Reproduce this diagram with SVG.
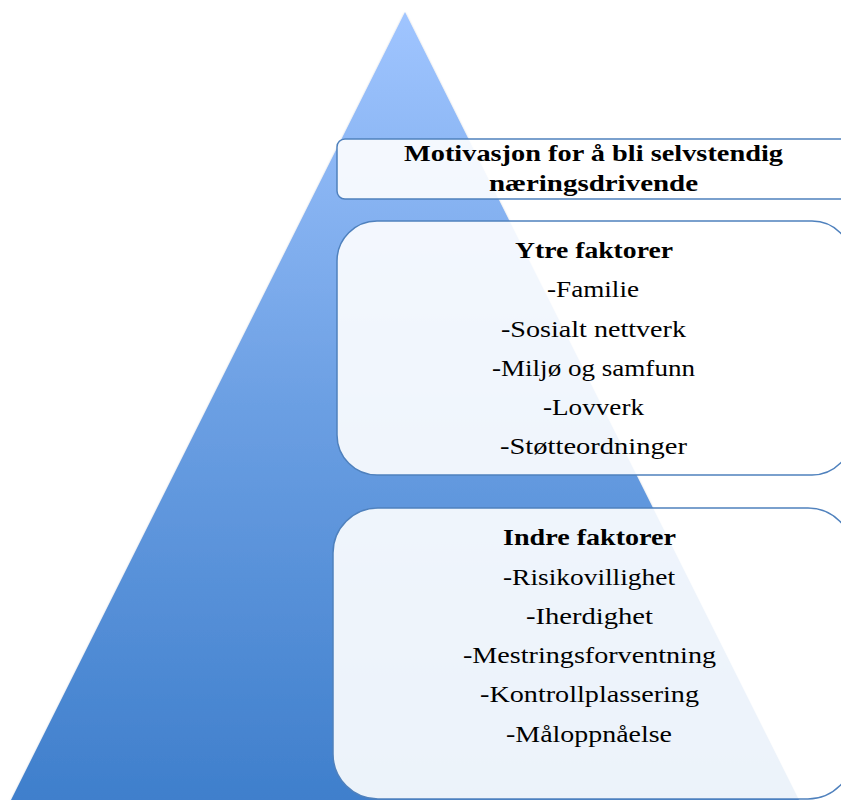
<svg xmlns="http://www.w3.org/2000/svg" width="841" height="800" viewBox="0 0 841 800">
<defs>
<linearGradient id="tri" x1="0" y1="12" x2="0" y2="800" gradientUnits="userSpaceOnUse">
<stop offset="0" stop-color="#a0c5ff"/>
<stop offset="0.5" stop-color="#6b9fe3"/>
<stop offset="1" stop-color="#3f7fcc"/>
</linearGradient>
<filter id="sh" x="-5%" y="-5%" width="110%" height="110%">
<feDropShadow dx="0" dy="1" stdDeviation="1" flood-color="#000" flood-opacity="0.25"/>
</filter>
</defs>
<style>
.box{fill:#ffffff;fill-opacity:0.9;stroke:#4f81bd;stroke-width:1.5}
text{font-family:"Liberation Serif","DejaVu Serif",serif;fill:#000;text-anchor:middle}
.h{font-weight:bold;font-size:24px}
.i{font-size:24px}
</style>
<rect width="841" height="800" fill="#ffffff"/>
<g id="pyramid">
<polygon points="405,12 11,800 799,800" fill="url(#tri)" filter="url(#sh)"/>
</g>
<g id="connectors"/>
<g id="title">
<rect class="box" x="337" y="139" width="520" height="60" rx="8"/>
<text class="h" x="593.5" y="161" textLength="379" lengthAdjust="spacingAndGlyphs">Motivasjon for å bli selvstendig</text>
<text class="h" x="593.5" y="191" textLength="209" lengthAdjust="spacingAndGlyphs">næringsdrivende</text>
</g>
<g id="ytre">
<rect class="box" x="337" y="221" width="515" height="254" rx="40"/>
<text class="h" x="594" y="258" textLength="158" lengthAdjust="spacingAndGlyphs">Ytre faktorer</text>
<text class="i" x="593" y="297" textLength="92" lengthAdjust="spacingAndGlyphs">-Familie</text>
<text class="i" x="593.5" y="337" textLength="185" lengthAdjust="spacingAndGlyphs">-Sosialt nettverk</text>
<text class="i" x="593.5" y="376" textLength="203" lengthAdjust="spacingAndGlyphs">-Miljø og samfunn</text>
<text class="i" x="593.5" y="415" textLength="101" lengthAdjust="spacingAndGlyphs">-Lovverk</text>
<text class="i" x="593.5" y="454" textLength="187" lengthAdjust="spacingAndGlyphs">-Støtteordninger</text>
</g>
<g id="indre">
<rect class="box" x="333" y="508" width="520" height="291" rx="45"/>
<text class="h" x="589.5" y="545" textLength="173" lengthAdjust="spacingAndGlyphs">Indre faktorer</text>
<text class="i" x="589" y="585" textLength="172" lengthAdjust="spacingAndGlyphs">-Risikovillighet</text>
<text class="i" x="589.5" y="624" textLength="127" lengthAdjust="spacingAndGlyphs">-Iherdighet</text>
<text class="i" x="589.5" y="663" textLength="253" lengthAdjust="spacingAndGlyphs">-Mestringsforventning</text>
<text class="i" x="589.5" y="702" textLength="219" lengthAdjust="spacingAndGlyphs">-Kontrollplassering</text>
<text class="i" x="589" y="742" textLength="166" lengthAdjust="spacingAndGlyphs">-Måloppnåelse</text>
</g>
</svg>
